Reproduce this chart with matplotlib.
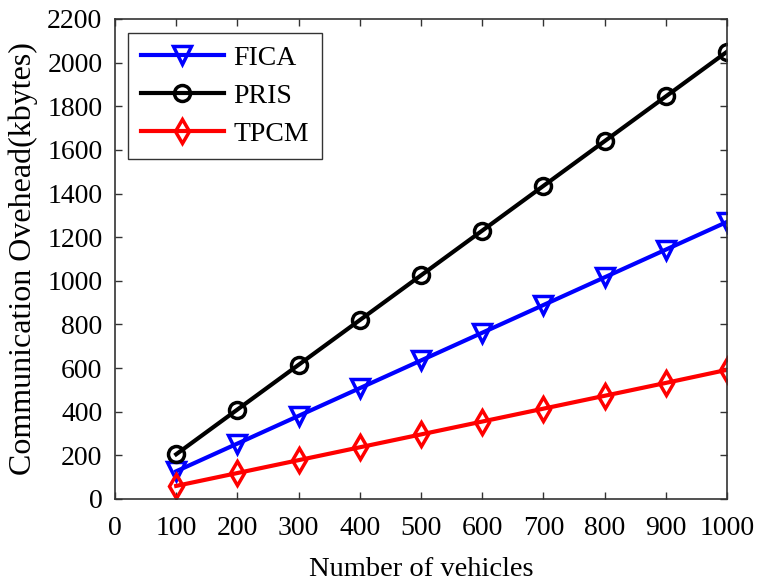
import numpy as np
import matplotlib
matplotlib.use("Agg")
import matplotlib.pyplot as plt

# -------- data ----------
vehicles = [100, 200, 300, 400, 500, 600, 700, 800, 900, 1000]
fica = [127, 254, 381, 508, 635, 762, 889, 1016, 1143, 1270]
pris = [205, 410, 615, 820, 1025, 1230, 1435, 1640, 1845, 2050]
tpcm = [60, 119, 178, 237, 296, 355, 414, 473, 532, 592]

plt.rcParams["font.family"] = ["Liberation Serif", "DejaVu Serif"]

fig = plt.figure(figsize=(7.59, 5.81), dpi=100)
ax = fig.add_axes([115 / 759, 1 - 499 / 581, (727 - 115) / 759, (499 - 19) / 581])

ax.plot(vehicles, fica, color="#0000ff", lw=3, marker="v", ms=12.5, mew=2.5,
        mfc="none", label="FICA")
ax.plot(vehicles, pris, color="black", lw=3, marker="o", ms=11.5, mew=2.5,
        mfc="none", label="PRIS")
ax.plot(vehicles, tpcm, color="#ff0000", lw=3, marker="d", ms=12, mew=2.5,
        mfc="none", label="TPCM")

ax.set_xlim(0, 1000)
ax.set_ylim(0, 2200)
ax.set_xticks(np.arange(0, 1001, 100))
ax.set_yticks(np.arange(0, 2201, 200))
ax.tick_params(direction="in", top=True, right=True, labelsize=20, length=5,
               width=1, color="#333333")
ax.tick_params(axis="x", pad=12)
ax.tick_params(axis="y", pad=9)
for s in ax.spines.values():
    s.set_linewidth(1.2)
    s.set_color("#333333")

ax.set_xlabel("Number of vehicles", fontsize=20.5, labelpad=12)
ax.set_ylabel("Communication Ovehead(kbytes)", fontsize=23)
ax.yaxis.set_label_coords(-77 / 612, 0.5)

leg = ax.legend(loc="upper left", fontsize=20, frameon=True, fancybox=False,
                edgecolor="black", handlelength=3.0, borderpad=0.45,
                labelspacing=0.45, handletextpad=0.35, borderaxespad=0,
                bbox_to_anchor=(13 / 612, 1 - 14 / 480))
leg.get_frame().set_linewidth(1.0)

fig.savefig("out.png", dpi=100)
